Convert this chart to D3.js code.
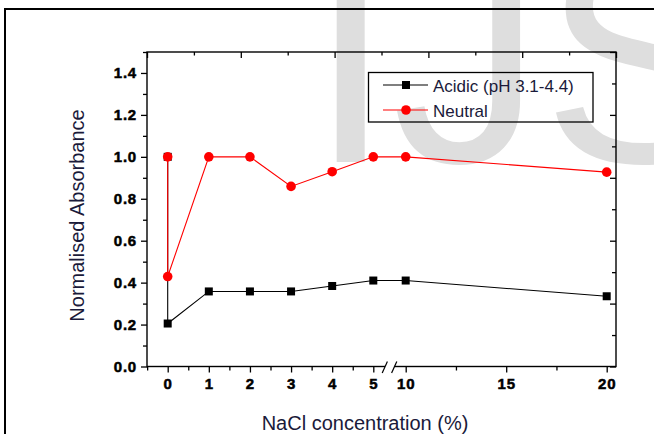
<!DOCTYPE html>
<html>
<head>
<meta charset="utf-8">
<script src="https://cdn.jsdelivr.net/npm/d3@7"></script>
<style>
    body { margin: 0; background: #fff; }
    svg { display: block; font-family: "Liberation Sans", Arial, sans-serif; }
    .tick text { font-weight: bold; font-size: 15px; fill: #000; stroke: #000; stroke-width: 0.5px; letter-spacing: 0.8px; }
    .tick line { stroke: #000; stroke-width: 1.3; }
</style>
</head>
<body>
<svg id="chart" width="654" height="434"></svg>
<script>
/*global d3*/

// NaCl concentration (%) - the first two points both sit at 0
var concentration = [0, 0, 1, 2, 3, 4, 5, 10, 20];
var acidic = [1.0, 0.205, 0.358, 0.358, 0.358, 0.384, 0.41, 0.41, 0.335];
var neutral = [1.0, 0.429, 1.0, 1.0, 0.859, 0.929, 1.0, 1.0, 0.927];

var xTicks = [0, 1, 2, 3, 4, 5, 10, 15, 20];
var xMinorTicks = [-0.5, 0.5, 1.5, 2.5, 3.5, 4.5, 12.5, 17.5];
var yTicks = [0, 0.2, 0.4, 0.6, 0.8, 1.0, 1.2, 1.4];
var yMinorTicks = [0.1, 0.3, 0.5, 0.7, 0.9, 1.1, 1.3, 1.5];
var legendNames = ["Acidic (pH 3.1-4.4)", "Neutral"];

var svg = d3.select("#chart");

var box = {left: 147, right: 616, top: 52, bottom: 366.5};

// watermark behind everything
svg.append("text")
    .attr("x", 309).attr("y", 162)
    .attr("font-size", 300)
    .attr("fill", "#dedede")
    .text("IJS");

// outer frame of the figure
svg.append("path")
    .attr("d", "M5,440V9H660")
    .attr("fill", "none")
    .attr("stroke", "#000")
    .attr("stroke-width", 2);

// broken x scale: 0-5 then 10-20
var x = d3.scaleLinear()
    .domain([0, 5, 10, 20])
    .range([167.7, 373.3, 405.7, 606.7]);
var y = d3.scaleLinear().domain([0, 1.5]).range([box.bottom, box.top]);

// mirror axes on top / right have their own 0-5 spacing
var xTop = d3.scaleLinear().domain([0, 5]).range([box.left, box.right]);
var yRight = d3.scaleLinear().domain([0, 5]).range([box.bottom, box.top]);

function noDomain(g) { g.select(".domain").remove(); }

// Bottom axis
svg.append("g")
    .attr("transform", "translate(0," + box.bottom + ")")
    .call(d3.axisBottom(x).tickValues(xTicks).tickSize(6).tickPadding(5.5).tickFormat(d3.format("d")))
    .call(noDomain);
svg.append("g")
    .attr("transform", "translate(0," + box.bottom + ")")
    .call(d3.axisBottom(x).tickValues(xMinorTicks).tickSize(4).tickFormat(""))
    .call(noDomain);

// Left axis
svg.append("g")
    .attr("transform", "translate(" + box.left + ",0)")
    .call(d3.axisLeft(y).tickValues(yTicks).tickSize(6).tickPadding(4).tickFormat(d3.format(".1f")))
    .call(noDomain);
svg.append("g")
    .attr("transform", "translate(" + box.left + ",0)")
    .call(d3.axisLeft(y).tickValues(yMinorTicks).tickSize(4).tickFormat(""))
    .call(noDomain);

// Top axis (ticks inward)
svg.append("g")
    .attr("transform", "translate(0," + box.top + ")")
    .call(d3.axisBottom(xTop).ticks(5).tickSize(6).tickFormat(""))
    .call(noDomain);
svg.append("g")
    .attr("transform", "translate(0," + box.top + ")")
    .call(d3.axisBottom(xTop).tickValues(d3.range(0.5, 5, 1)).tickSize(3.5).tickFormat(""))
    .call(noDomain);

// Right axis (ticks inward)
svg.append("g")
    .attr("transform", "translate(" + box.right + ",0)")
    .call(d3.axisLeft(yRight).ticks(5).tickSize(6).tickFormat(""))
    .call(noDomain);
svg.append("g")
    .attr("transform", "translate(" + box.right + ",0)")
    .call(d3.axisLeft(yRight).tickValues(d3.range(0.5, 5, 1)).tickSize(4).tickFormat(""))
    .call(noDomain);

// plot frame
svg.append("rect")
    .attr("x", box.left).attr("y", box.top)
    .attr("width", box.right - box.left).attr("height", box.bottom - box.top)
    .attr("fill", "none")
    .attr("stroke", "#000")
    .attr("stroke-width", 1.4);

// axis break
var bx = (x(5) + x(10)) / 2;
svg.append("rect")
    .attr("x", bx - 4.5).attr("y", box.bottom - 2)
    .attr("width", 9).attr("height", 4)
    .attr("fill", "#fff");
[-4.7, 4.7].forEach(function (o) {
    svg.append("line")
        .attr("x1", bx + o - 2.6).attr("y1", box.bottom + 6.5)
        .attr("x2", bx + o + 2.6).attr("y2", box.bottom - 5)
        .attr("stroke", "#000").attr("stroke-width", 1.2);
});

// series
var series = [
    {name: legendNames[0], values: acidic, color: "#000", shape: "square"},
    {name: legendNames[1], values: neutral, color: "#ff0000", shape: "circle"}
];

var line = d3.line()
    .x(function (d) { return x(d[0]); })
    .y(function (d) { return y(d[1]); });

function drawMarker(g, cx, cy, s) {
    if (s.shape === "square") {
        g.append("rect")
            .attr("x", cx - 4).attr("y", cy - 4)
            .attr("width", 8).attr("height", 8)
            .attr("fill", s.color);
    } else {
        g.append("circle")
            .attr("cx", cx).attr("cy", cy).attr("r", 4.8)
            .attr("fill", s.color);
    }
}

series.forEach(function (s) {
    var pts = concentration.map(function (c, i) { return [c, s.values[i]]; });
    var g = svg.append("g");
    g.append("path")
        .attr("d", line(pts))
        .attr("fill", "none")
        .attr("stroke", s.color)
        .attr("stroke-width", 1.1);
    pts.forEach(function (p) {
        drawMarker(g, x(p[0]), y(p[1]), s);
    });
});

// legend
var legend = svg.append("g");
legend.append("rect")
    .attr("x", 368.5).attr("y", 72.5)
    .attr("width", 224.5).attr("height", 49.5)
    .attr("fill", "none")
    .attr("stroke", "#000")
    .attr("stroke-width", 1.3);
series.forEach(function (s, i) {
    var ly = 85 + i * 25;
    legend.append("line")
        .attr("x1", 383).attr("x2", 428)
        .attr("y1", ly).attr("y2", ly)
        .attr("stroke", s.color).attr("stroke-width", 1.1);
    drawMarker(legend, 406, ly, s);
    legend.append("text")
        .attr("x", 433).attr("y", ly + 7)
        .attr("font-size", 17)
        .attr("fill", "#1a1a3a")
        .text(s.name);
});

// axis titles
svg.append("text")
    .attr("x", 365).attr("y", 430)
    .attr("text-anchor", "middle")
    .attr("font-size", 20)
    .attr("fill", "#1a1a3a")
    .text("NaCl concentration (%)");

svg.append("text")
    .attr("transform", "translate(84,215.5) rotate(-90)")
    .attr("text-anchor", "middle")
    .attr("font-size", 20)
    .attr("fill", "#1a1a3a")
    .text("Normalised Absorbance");
</script>
</body>
</html>
